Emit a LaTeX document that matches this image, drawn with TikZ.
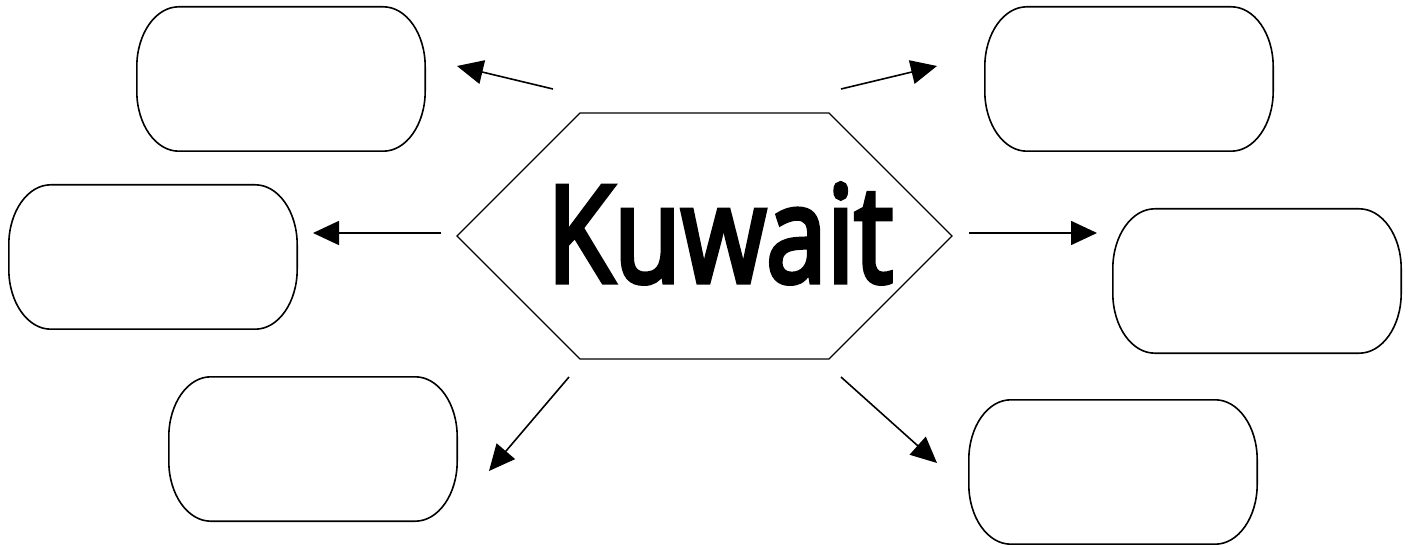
\documentclass[tikz,border=0pt]{standalone}
\usepackage{fontspec}
\setmainfont{Open Sans}
\newfontfamily\kwfont[FakeBold=4]{Open Sans}
\usetikzlibrary{arrows.meta,calc}
\tikzset{
  boxslot/.style={draw=none,minimum width=288pt,minimum height=144pt,inner sep=0pt},
  conn/.style={line width=1.6pt,-{Triangle[length=26pt,width=24pt]}},
  hexline/.style={line width=1.3pt},
}
\newcommand\stadiumof[1]{%
  \draw[line width=1.6pt]
    ($(#1.north west)+(42pt,0)$) -- ($(#1.north east)+(-42pt,0)$)
    arc[start angle=90,end angle=0,x radius=42pt,y radius=60pt]
    -- ($(#1.south east)+(0,60pt)$)
    arc[start angle=0,end angle=-90,x radius=42pt,y radius=60pt]
    -- ($(#1.south west)+(42pt,0)$)
    arc[start angle=270,end angle=180,x radius=42pt,y radius=60pt]
    -- ($(#1.north west)+(0,-60pt)$)
    arc[start angle=180,end angle=90,x radius=42pt,y radius=60pt]
    -- cycle;}
\begin{document}
\begin{tikzpicture}[x=1pt,y=1pt]
\useasboundingbox (0,0) rectangle (1411,-545);
% boxes
\node[boxslot] (b1) at (281,-79) {};
\node[boxslot] (b2) at (153,-257) {};
\node[boxslot] (b3) at (313,-449) {};
\node[boxslot] (b4) at (1129,-79) {};
\node[boxslot] (b5) at (1257,-281) {};
\node[boxslot] (b6) at (1113,-472) {};
\stadiumof{b1}\stadiumof{b2}\stadiumof{b3}\stadiumof{b4}\stadiumof{b5}\stadiumof{b6}
% hexagon
\coordinate (hL) at (457,-236);
\coordinate (hTL) at (580,-113);
\coordinate (hTR) at (829,-113);
\coordinate (hR) at (952,-236);
\coordinate (hBR) at (829,-359);
\coordinate (hBL) at (580,-359);
\draw[hexline] (hL) -- (hTL) -- (hTR) -- (hR) -- (hBR) -- (hBL) -- cycle;
\node[inner sep=0pt,anchor=base] (hex) at (720,-282) {\resizebox{346pt}{\height}{\kwfont\fontsize{134}{140}\selectfont Kuwait}};
% arrow ends
\coordinate (s1) at (553,-89);  \coordinate (e1) at (457,-66);
\coordinate (s2) at (441,-233); \coordinate (e2) at (313,-233);
\coordinate (s3) at (569,-377); \coordinate (e3) at (489,-471);
\coordinate (s4) at (841,-89);  \coordinate (e4) at (937,-66);
\coordinate (s5) at (969,-233); \coordinate (e5) at (1097,-233);
\coordinate (s6) at (841,-377); \coordinate (e6) at (937,-463);
\foreach \i in {1,...,6} \draw[conn] (s\i) -- (e\i);
\end{tikzpicture}
\end{document}
